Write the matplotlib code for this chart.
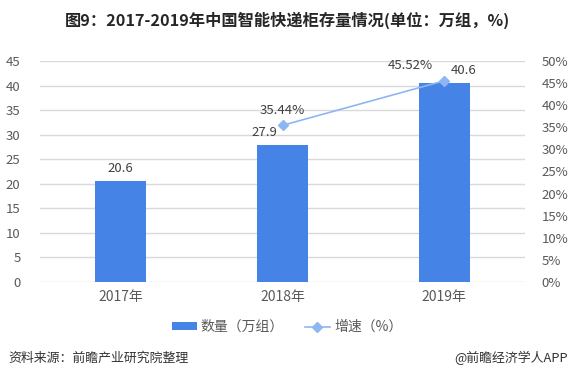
import matplotlib
matplotlib.use("Agg")
import matplotlib.pyplot as plt
from matplotlib.lines import Line2D
from matplotlib.patches import Patch
import numpy as np

plt.rcParams['font.family'] = ['Noto Sans CJK SC', 'DejaVu Sans']

years = ["2017年", "2018年", "2019年"]
quantity = [20.6, 27.9, 40.6]
growth = [None, 35.44, 45.52]
left_ticks = list(range(0, 50, 5))
right_ticks = list(range(0, 55, 5))

title = "图9：2017-2019年中国智能快递柜存量情况(单位：万组，%)"
source = "资料来源：前瞻产业研究院整理"
brand = "@前瞻经济学人APP"

bar_color = "#4584E6"
line_color = "#8DB6F2"
text_color = "#404040"
tick_color = "#595959"

fig = plt.figure(figsize=(5.73, 3.8), dpi=100)
ax = fig.add_axes([40/573, 1-282/380, (525-40)/573, (282-61)/380])
x = np.arange(len(years))
ax.bar(x, quantity, width=0.315, color=bar_color, zorder=3)
ax.set_xlim(-0.5, len(years)-0.5)
ax.set_ylim(0, 45)
ax.set_yticks(left_ticks)
ax.set_yticklabels([str(t) for t in left_ticks])
ax.grid(axis='y', color='#D9D9D9', linewidth=1, zorder=0)
ax.set_axisbelow(True)
for s in ax.spines.values():
    s.set_visible(False)
ax.tick_params(axis='both', length=0, labelsize=9.5, colors=tick_color)
ax.tick_params(axis='y', pad=14)
ax.tick_params(axis='x', labelsize=10, pad=6)
ax.set_xticks(x)
ax.set_xticklabels(years)

offsets = [0, -0.11, 0.12]
for i, v in enumerate(quantity):
    ax.text(x[i] + offsets[i], v + 1.2, f"{v:.1f}", ha='center', va='bottom',
            fontsize=9.5, color=text_color)

ax2 = ax.twinx()
ax2.set_ylim(0, 50)
ax2.set_yticks(right_ticks)
ax2.set_yticklabels([f"{t}%" for t in right_ticks])
for s in ax2.spines.values():
    s.set_visible(False)
ax2.tick_params(axis='y', length=0, labelsize=9.5, colors=tick_color, pad=12)
gx = [x[i] for i, g in enumerate(growth) if g is not None]
gy = [g for g in growth if g is not None]
ax2.plot(gx, gy, color=line_color, linewidth=1.2, marker='D', markersize=5.5,
         markerfacecolor=line_color, markeredgecolor=line_color, zorder=5)
goffs = {1: 0.0, 2: -0.21}
for xi, g in zip(gx, gy):
    ax2.text(xi + goffs[xi], g + 2.0, f"{g:.2f}%", ha='center', va='bottom',
             fontsize=9.5, color=text_color)

fig.text(287/573, 1-20/380, title, ha='center', va='center', fontsize=11.7,
         fontweight='bold', color='#262626')

handles = [Patch(facecolor=bar_color, edgecolor='none'),
           Line2D([0], [0], color=line_color, marker='D', markersize=5,
                  markerfacecolor=line_color, linewidth=1.2)]
fig.legend(handles, ["数量（万组）", "增速（%）"], loc='center',
           bbox_to_anchor=(287/573, 1-327/380), ncol=2, frameon=False,
           fontsize=10, labelcolor=tick_color, handlelength=1.8,
           handleheight=0.5, columnspacing=1.5, handletextpad=0.3)

fig.text(8/573, 1-358/380, source, ha='left', va='center', fontsize=9.3, color='#333333')
fig.text(568/573, 1-358/380, brand, ha='right', va='center', fontsize=9.3, color='#333333')

fig.savefig("out.png", dpi=100)
